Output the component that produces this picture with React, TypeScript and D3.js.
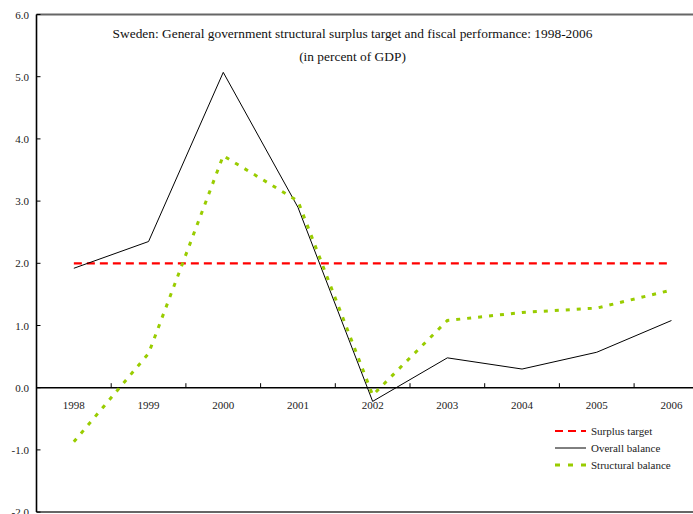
import { useEffect, useRef } from 'react';
import * as d3 from 'd3';

const YEARS = ['1998', '1999', '2000', '2001', '2002', '2003', '2004', '2005', '2006'];
const OVERALL = [1.92, 2.35, 5.07, 2.9, -0.22, 0.48, 0.3, 0.57, 1.08];
const STRUCTURAL = [-0.87, 0.55, 3.73, 3.0, -0.12, 1.08, 1.21, 1.28, 1.57];
const TARGET = [2, 2, 2, 2, 2, 2, 2, 2, 2];
const Y_TICKS = [-2, -1, 0, 1, 2, 3, 4, 5, 6];

const W = 693;
const H = 514;
const FONT = '"Liberation Serif", "Times New Roman", serif';

export default function App() {
  const svgRef = useRef<SVGSVGElement>(null);

  useEffect(() => {
    const svg = d3.select(svgRef.current);
    svg.selectAll('*').remove();

    const x = d3.scaleBand<string>().domain(YEARS).range([36.5, 708.8]).padding(0);
    const y = d3.scaleLinear().domain([-2, 6]).range([512.1, 14.5]);
    const cx = (d: string) => (x(d) ?? 0) + x.bandwidth() / 2;

    // frame: gray top/bottom
    svg.append('line').attr('x1', 36.5).attr('x2', W).attr('y1', y(6)).attr('y2', y(6))
      .attr('stroke', '#666').attr('stroke-width', 2);
    svg.append('line').attr('x1', 36.5).attr('x2', W).attr('y1', y(-2)).attr('y2', y(-2))
      .attr('stroke', '#666').attr('stroke-width', 2);

    // y axis
    svg.append('line').attr('x1', 36.5).attr('x2', 36.5).attr('y1', y(6)).attr('y2', y(-2))
      .attr('stroke', '#000').attr('stroke-width', 1.6);
    Y_TICKS.forEach((t) => {
      svg.append('line').attr('x1', 36.5).attr('x2', 40.5).attr('y1', y(t)).attr('y2', y(t))
        .attr('stroke', '#000').attr('stroke-width', 1);
      svg.append('text').attr('x', 29).attr('y', y(t) + 4).attr('text-anchor', 'end')
        .attr('font-family', FONT).attr('font-size', 11).attr('fill', '#222')
        .text(t.toFixed(1));
    });

    // zero line with category ticks
    svg.append('line').attr('x1', 36.5).attr('x2', W).attr('y1', y(0)).attr('y2', y(0))
      .attr('stroke', '#000').attr('stroke-width', 1.5);
    YEARS.forEach((d, i) => {
      if (i > 0) {
        const xx = x(d) ?? 0;
        svg.append('line').attr('x1', xx).attr('x2', xx).attr('y1', y(0)).attr('y2', y(0) - 4.5)
          .attr('stroke', '#000').attr('stroke-width', 1);
      }
      svg.append('text').attr('x', cx(d)).attr('y', y(0) + 21).attr('text-anchor', 'middle')
        .attr('font-family', FONT).attr('font-size', 11).attr('fill', '#222').text(d);
    });

    const line = d3.line<number>().x((_, i) => cx(YEARS[i])).y((v) => y(v));

    svg.append('path').attr('d', line(TARGET)).attr('fill', 'none')
      .attr('stroke', '#ff0000').attr('stroke-width', 2.2).attr('stroke-dasharray', '8,5');
    svg.append('path').attr('d', line(OVERALL)).attr('fill', 'none')
      .attr('stroke', '#000').attr('stroke-width', 1);
    svg.append('path').attr('d', line(STRUCTURAL)).attr('fill', 'none')
      .attr('stroke', '#99cc00').attr('stroke-width', 3).attr('stroke-dasharray', '4,7');

    // title
    svg.append('text').attr('x', 352.5).attr('y', 38).attr('text-anchor', 'middle')
      .attr('font-family', FONT).attr('font-size', 13.4).attr('fill', '#111')
      .text('Sweden: General government structural surplus target and fiscal performance: 1998-2006');
    svg.append('text').attr('x', 352.5).attr('y', 61).attr('text-anchor', 'middle')
      .attr('font-family', FONT).attr('font-size', 13.4).attr('fill', '#111')
      .text('(in percent of GDP)');

    // legend
    const legend = [
      { label: 'Surplus target', color: '#ff0000', width: 2.2, dash: '8,5' },
      { label: 'Overall balance', color: '#000', width: 1, dash: null },
      { label: 'Structural balance', color: '#99cc00', width: 3, dash: '5,8' },
    ];
    legend.forEach((l, i) => {
      const ly = 431 + i * 17;
      const ln = svg.append('line').attr('x1', 555).attr('x2', 586).attr('y1', ly).attr('y2', ly)
        .attr('stroke', l.color).attr('stroke-width', l.width);
      if (l.dash) ln.attr('stroke-dasharray', l.dash);
      svg.append('text').attr('x', 591).attr('y', ly + 4).attr('font-family', FONT)
        .attr('font-size', 11).attr('fill', '#222').text(l.label);
    });
  }, []);

  return (
    <div style={{ position: 'absolute', left: 0, top: 0, width: W, height: H, overflow: 'hidden', background: '#fff' }}>
      <svg ref={svgRef} width={W} height={H} style={{ display: 'block' }} />
    </div>
  );
}
